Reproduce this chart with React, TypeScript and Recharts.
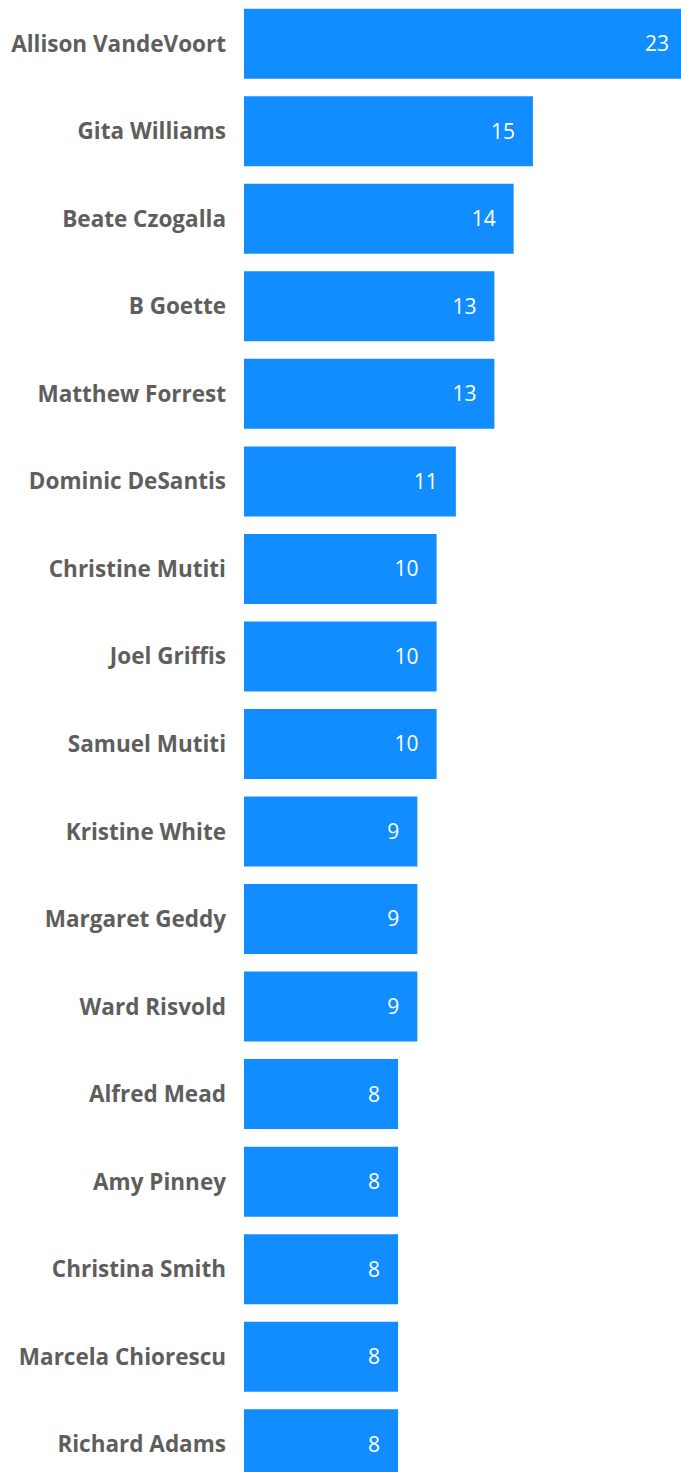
import React from 'react';
import { BarChart, Bar, XAxis, YAxis, LabelList } from 'recharts';

const names = [
  'Allison VandeVoort',
  'Gita Williams',
  'Beate Czogalla',
  'B Goette',
  'Matthew Forrest',
  'Dominic DeSantis',
  'Christine Mutiti',
  'Joel Griffis',
  'Samuel Mutiti',
  'Kristine White',
  'Margaret Geddy',
  'Ward Risvold',
  'Alfred Mead',
  'Amy Pinney',
  'Christina Smith',
  'Marcela Chiorescu',
  'Richard Adams',
];

const counts = [23, 15, 14, 13, 13, 11, 10, 10, 10, 9, 9, 9, 8, 8, 8, 8, 8];

const data = names.map((name, i) => ({ name, value: counts[i] }));

const FONT = '"Segoe UI", "Open Sans", "Noto Sans", sans-serif';

const App: React.FC = () => {
  return (
    <div style={{ position: 'absolute', left: 0, top: 0, width: 681, height: 1472, overflow: 'hidden', background: '#fff' }}>
      <style>{`html, body { margin: 0; overflow: hidden; }`}</style>
      <BarChart
        width={687}
        height={1488}
        data={data}
        layout="vertical"
        margin={{ top: 0, right: 0, bottom: 0, left: 0 }}
        barCategoryGap={8.75}
      >
        <XAxis type="number" domain={[0, 23]} allowDataOverflow hide />
        <YAxis
          type="category"
          dataKey="name"
          width={244}
          axisLine={false}
          tickLine={false}
          tickSize={0}
          tickMargin={18}
          interval={0}
          tick={{ fill: '#605E5C', fontSize: 22.5, fontWeight: 700, fontFamily: FONT }}
        />
        <Bar dataKey="value" fill="#118DFF" isAnimationActive={false}>
          <LabelList
            dataKey="value"
            position="insideRight"
            offset={18}
            fill="#FFFFFF"
            style={{ fontSize: 21, fontFamily: FONT }}
          />
        </Bar>
      </BarChart>
    </div>
  );
};

export default App;
